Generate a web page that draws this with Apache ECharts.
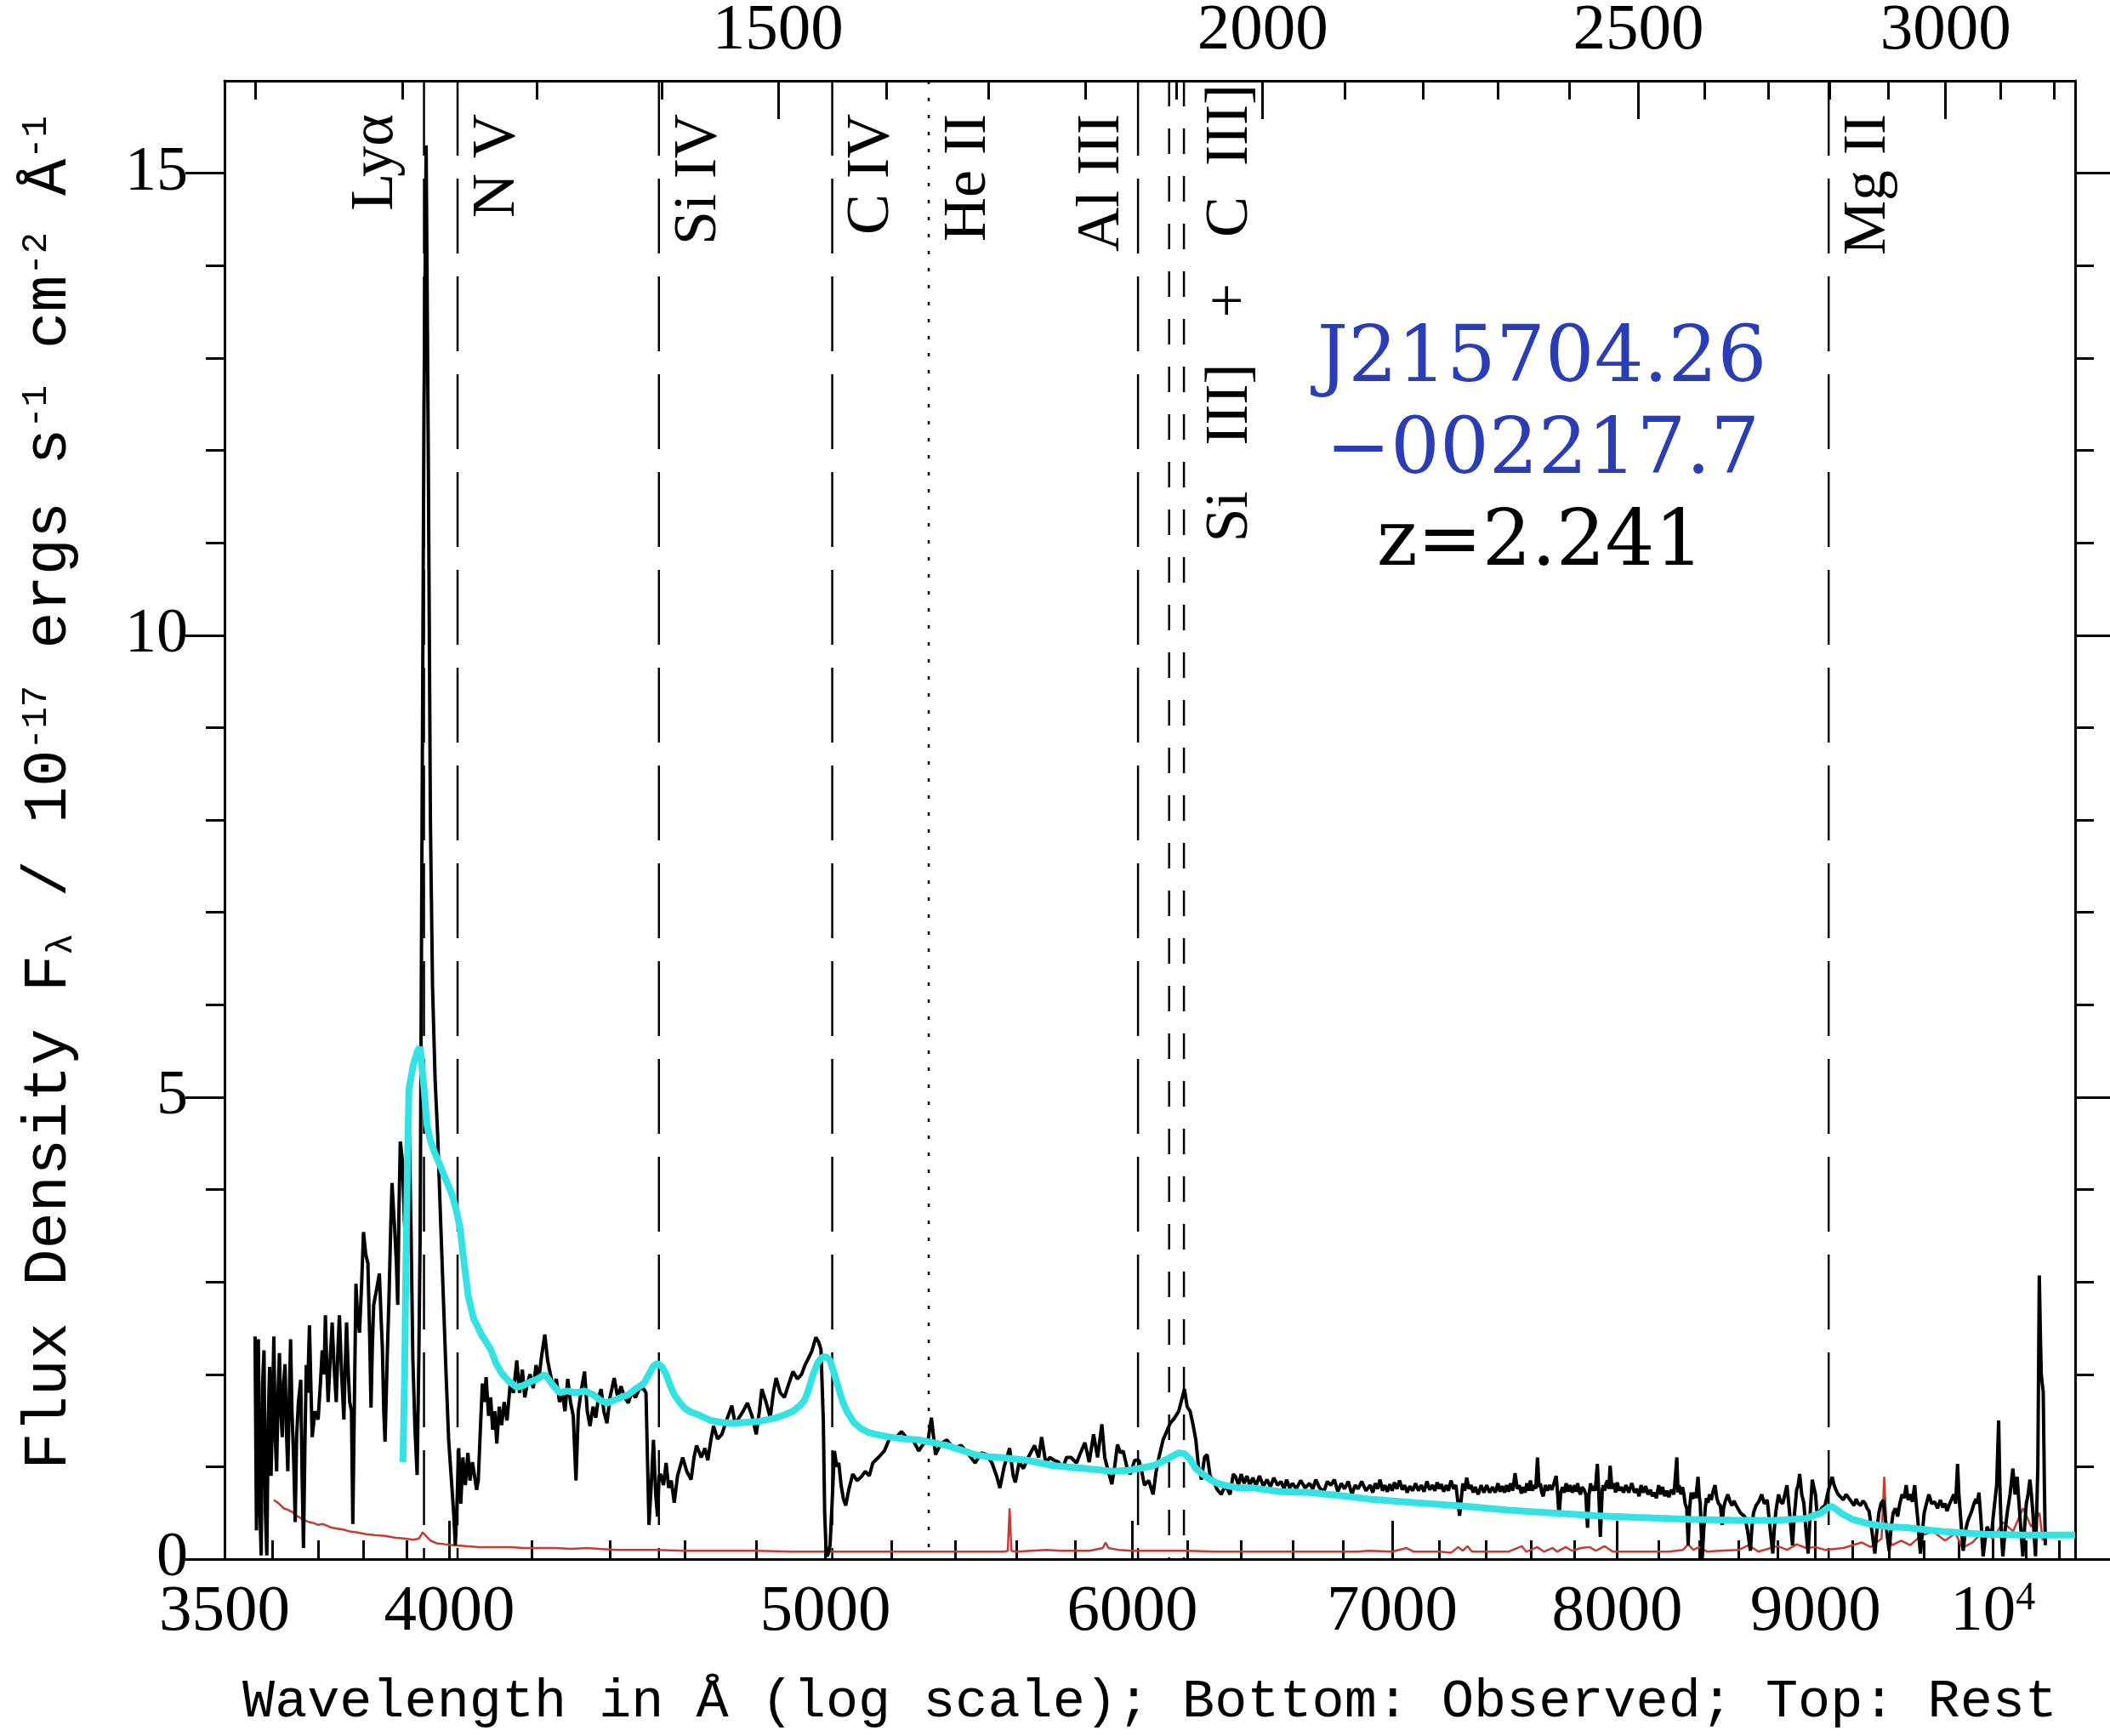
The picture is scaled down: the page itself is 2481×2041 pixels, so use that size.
<!DOCTYPE html>
<html>
<head>
<meta charset="utf-8">
<title>J215704.26-002217.7</title>
<script src="https://cdn.jsdelivr.net/npm/echarts@6/dist/echarts.min.js"></script>
<style>
  html, body { margin: 0; padding: 0; background: #fff; }
  #chart { width: 2481px; height: 2041px; }
</style>
</head>
<body>
<div id="chart"></div>
<script>
// redshift of the quasar
const z = 2.241;

// emission lines, rest wavelength in Å
const lineNames = ['Lyα', 'N V', 'Si IV', 'C IV', 'He II', 'Al III', 'Si III]', 'C III]', 'Mg II'];
const lineRest = [1215.67, 1240.14, 1397.61, 1549.06, 1640.42, 1857.40, 1892.03, 1908.73, 2798.75];
const lineLabels = ['Lyα', 'N V', 'Si IV', 'C IV', 'He II', 'Al III', '', 'Si   III]   +   C  III]', 'Mg II'];

// ticks
const obsMajor = [3500, 4000, 5000, 6000, 7000, 8000, 9000, 10000];
const obsMinor = [3600, 3700, 3800, 3900, 4200, 4400, 4600, 4800, 5200, 5400, 5600, 5800,
  6200, 6400, 6600, 6800, 7200, 7400, 7600, 7800, 8200, 8400, 8600, 8800,
  9200, 9400, 9600, 9800, 10200, 10400];
const restMajor = [1500, 2000, 2500, 3000];
const restMinor = [1100, 1200, 1300, 1400, 1600, 1700, 1800, 1900, 2100, 2200, 2300, 2400,
  2600, 2700, 2800, 2900, 3100, 3200];
const fluxMajor = [0, 5, 10, 15];
const fluxMinor = [1, 2, 3, 4, 6, 7, 8, 9, 11, 12, 13, 14];

// observed spectrum [wavelength Å, flux]
const spectrum = [
  [3564, 2.41], [3567, 0.31], [3571, 2.38], [3574, 0.6], [3577, 0.04], [3580, 1.9], [3583, 2.26],
  [3586, 0.5], [3589, 0.04], [3592, 1.5], [3595, 2.08], [3598, 0.9], [3601, 1.6], [3604, 2.41],
  [3607, 1.3], [3610, 0.95], [3613, 1.8], [3616, 2.23], [3619, 1.6], [3622, 1.32], [3625, 1.9],
  [3628, 2.11], [3631, 1.4], [3634, 0.95], [3637, 1.7], [3640, 2.38], [3643, 1.6], [3647, 1.02],
  [3650, 0.4], [3653, 1.32], [3657, 1.7], [3662, 1.94], [3665, 0.9], [3668, 0.12], [3671, 1.2],
  [3674, 2.1], [3677, 1.8], [3681, 2.53], [3684, 1.9], [3687, 1.32], [3693, 1.6], [3700, 1.51],
  [3705, 1.9], [3709, 2.26], [3713, 2.0], [3716, 2.64], [3719, 2.1], [3722, 1.7], [3727, 2.2],
  [3731, 2.56], [3735, 2.1], [3740, 1.7], [3744, 2.3], [3747, 2.64], [3752, 2.0], [3757, 1.51],
  [3760, 2.1], [3763, 2.56], [3767, 2.0], [3770, 1.7], [3774, 1.6], [3777, 0.38], [3780, 1.5],
  [3784, 2.98], [3788, 2.6], [3792, 2.45], [3797, 3.0], [3801, 3.54], [3806, 3.3], [3811, 3.2],
  [3815, 2.4], [3818, 1.64], [3821, 2.3], [3824, 2.75], [3830, 2.9], [3837, 3.09], [3841, 2.6],
  [3844, 2.26], [3847, 1.6], [3850, 1.27], [3855, 2.2], [3859, 2.83], [3863, 3.6], [3866, 4.07],
  [3869, 3.8], [3872, 3.58], [3876, 3.2], [3879, 2.75], [3882, 3.8], [3885, 4.52], [3890, 4.3],
  [3895, 3.6], [3900, 4.4], [3905, 4.86], [3910, 3.5], [3914, 2.17], [3919, 1.4], [3924, 0.91],
  [3928, 2.2], [3931, 3.5], [3935, 7.5], [3940, 12.5], [3945, 15.3], [3950, 12.0], [3955, 8.0],
  [3960, 6.2], [3966, 5.2], [3972, 4.6], [3978, 3.8], [3985, 2.9], [3992, 2.0], [3998, 1.3],
  [4004, 0.9], [4010, 0.5], [4014, 0.15], [4018, 0.6], [4022, 1.2], [4027, 0.6], [4032, 1.1],
  [4038, 0.8], [4044, 1.15], [4049, 0.85], [4055, 1.05], [4060, 0.9], [4065, 0.75], [4069, 0.85],
  [4075, 1.5], [4079, 1.9], [4084, 1.7], [4088, 1.97], [4094, 1.55], [4099, 1.75], [4104, 1.4],
  [4109, 1.6], [4114, 1.25], [4120, 1.65], [4126, 1.45], [4132, 1.7], [4139, 1.5], [4147, 1.9],
  [4155, 1.8], [4163, 2.15], [4170, 1.8], [4177, 2.05], [4183, 1.75], [4189, 1.9], [4196, 2.0],
  [4204, 1.85], [4211, 2.1], [4218, 1.95], [4225, 2.2], [4233, 2.43], [4240, 2.15], [4247, 2.0],
  [4255, 1.85], [4262, 1.95], [4270, 1.7], [4277, 1.8], [4284, 1.6], [4291, 1.95], [4298, 1.7],
  [4305, 1.55], [4312, 0.85], [4318, 1.6], [4326, 1.84], [4334, 2.03], [4341, 1.6], [4348, 1.44],
  [4356, 1.65], [4363, 1.53], [4370, 1.75], [4377, 1.84], [4384, 1.6], [4392, 1.47], [4400, 1.75],
  [4411, 1.96], [4420, 1.75], [4429, 1.87], [4438, 1.75], [4448, 1.69], [4457, 1.8], [4467, 1.75],
  [4478, 1.85], [4489, 1.84], [4495, 1.8], [4500, 0.9], [4503, 0.37], [4509, 0.8], [4515, 1.29],
  [4521, 0.7], [4526, 0.46], [4530, 0.9], [4534, 0.92], [4542, 0.8], [4549, 1.04], [4556, 0.77],
  [4563, 0.85], [4571, 0.61], [4580, 0.9], [4594, 1.1], [4605, 0.95], [4617, 0.86], [4625, 1.1],
  [4632, 1.23], [4645, 1.1], [4655, 1.2], [4663, 1.07], [4672, 1.3], [4679, 1.44], [4690, 1.3],
  [4702, 1.35], [4715, 1.5], [4730, 1.66], [4740, 1.45], [4750, 1.53], [4762, 1.6], [4774, 1.69],
  [4787, 1.55], [4799, 1.35], [4808, 1.6], [4815, 1.84], [4827, 1.7], [4839, 1.53], [4848, 1.8],
  [4856, 1.96], [4868, 1.8], [4880, 1.75], [4893, 1.9], [4905, 2.03], [4918, 1.95], [4930, 2.0],
  [4940, 2.1], [4947, 2.15], [4960, 2.25], [4972, 2.4], [4980, 2.35], [4987, 2.27], [4994, 1.5],
  [4998, 0.5], [5003, 0.03], [5008, 0.05], [5014, 0.15], [5020, 0.6], [5027, 1.17], [5034, 1.0],
  [5040, 1.04], [5047, 0.8], [5054, 0.65], [5061, 0.58], [5070, 0.75], [5082, 0.92], [5095, 0.85],
  [5108, 0.89], [5120, 0.95], [5132, 0.9], [5143, 1.04], [5160, 1.1], [5178, 1.17], [5196, 1.32],
  [5210, 1.3], [5231, 1.38], [5250, 1.3], [5267, 1.29], [5285, 1.17], [5300, 1.25], [5315, 1.3],
  [5325, 1.53], [5338, 1.13], [5355, 1.25], [5374, 1.29], [5395, 1.2], [5420, 1.23], [5440, 1.15],
  [5465, 1.04], [5485, 1.15], [5502, 1.13], [5520, 1.04], [5535, 0.9], [5546, 0.77], [5560, 1.0],
  [5578, 1.2], [5590, 0.9], [5597, 0.83], [5610, 1.05], [5624, 0.98], [5640, 1.1], [5661, 1.23],
  [5675, 1.1], [5685, 1.32], [5699, 1.04], [5713, 1.1], [5727, 1.07], [5742, 1.05], [5756, 0.98],
  [5770, 1.1], [5785, 1.1], [5804, 1.04], [5818, 1.15], [5833, 1.26], [5848, 1.05], [5863, 1.35],
  [5877, 1.1], [5892, 1.46], [5902, 1.1], [5912, 0.98], [5927, 0.81], [5937, 1.0], [5947, 1.24],
  [5957, 1.15], [5967, 1.17], [5980, 1.0], [5992, 0.92], [6008, 1.07], [6023, 1.07], [6033, 0.95],
  [6043, 0.8], [6058, 0.85], [6074, 0.7], [6085, 0.95], [6095, 1.1], [6110, 1.29], [6123, 1.38],
  [6136, 1.47], [6150, 1.52], [6167, 1.6], [6180, 1.75], [6188, 1.84], [6198, 1.65], [6209, 1.6],
  [6220, 1.45], [6230, 1.29], [6240, 1.0], [6251, 0.86], [6262, 1.1], [6272, 1.13], [6283, 0.9],
  [6293, 0.86], [6310, 0.75], [6325, 0.7], [6340, 0.8], [6358, 0.7], [6370, 0.92], [6379, 0.89],
  [6390, 0.8], [6400, 0.92], [6411, 0.82], [6422, 0.9], [6433, 0.8], [6444, 0.88], [6457, 0.8],
  [6470, 0.9], [6485, 0.79], [6499, 0.86], [6512, 0.78], [6525, 0.88], [6540, 0.8], [6553, 0.84],
  [6565, 0.76], [6575, 0.86], [6587, 0.77], [6598, 0.82], [6613, 0.76], [6630, 0.85], [6648, 0.77],
  [6665, 0.82], [6678, 0.76], [6690, 0.86], [6705, 0.77], [6722, 0.73], [6736, 0.84], [6750, 0.8],
  [6764, 0.86], [6778, 0.73], [6792, 0.82], [6805, 0.76], [6820, 0.84], [6835, 0.7], [6848, 0.8],
  [6860, 0.76], [6875, 0.84], [6892, 0.74], [6910, 0.8], [6920, 0.72], [6930, 0.82], [6940, 0.76],
  [6950, 0.86], [6960, 0.74], [6970, 0.8], [6980, 0.73], [6991, 0.81], [7000, 0.74], [7010, 0.83],
  [7020, 0.76], [7031, 0.85], [7042, 0.75], [7052, 0.8], [7063, 0.72], [7074, 0.79], [7086, 0.74],
  [7098, 0.82], [7110, 0.74], [7122, 0.8], [7134, 0.73], [7146, 0.84], [7158, 0.75], [7170, 0.8],
  [7180, 0.74], [7190, 0.83], [7199, 0.76], [7207, 0.81], [7218, 0.73], [7228, 0.8], [7238, 0.74],
  [7249, 0.85], [7260, 0.76], [7270, 0.8], [7286, 0.47], [7300, 0.82], [7308, 0.74], [7317, 0.88],
  [7326, 0.76], [7336, 0.8], [7345, 0.72], [7354, 0.78], [7367, 0.7], [7380, 0.8], [7392, 0.72],
  [7404, 0.8], [7417, 0.72], [7430, 0.78], [7442, 0.72], [7454, 0.82], [7463, 0.73], [7473, 0.79],
  [7483, 0.72], [7492, 0.8], [7501, 0.73], [7510, 0.82], [7520, 0.74], [7530, 0.93], [7540, 0.76],
  [7549, 0.8], [7558, 0.71], [7567, 0.78], [7575, 0.72], [7583, 0.82], [7591, 0.74], [7599, 0.85],
  [7607, 0.74], [7615, 0.8], [7623, 0.76], [7631, 1.1], [7638, 0.78], [7644, 0.82], [7650, 0.72],
  [7657, 0.68], [7666, 0.8], [7676, 0.74], [7686, 0.8], [7696, 0.75], [7706, 0.82], [7716, 0.9],
  [7723, 0.7], [7729, 0.46], [7737, 0.72], [7745, 0.78], [7753, 0.72], [7762, 0.82], [7771, 0.73],
  [7780, 0.8], [7790, 0.72], [7801, 0.8], [7808, 0.73], [7815, 0.82], [7821, 0.74], [7828, 0.7],
  [7836, 0.78], [7845, 0.75], [7853, 0.7], [7861, 0.34], [7868, 0.7], [7875, 0.82], [7881, 0.74],
  [7887, 0.79], [7897, 0.74], [7907, 1.03], [7914, 0.7], [7921, 0.24], [7930, 0.75], [7935, 0.8],
  [7941, 0.74], [7948, 0.82], [7955, 0.85], [7961, 0.76], [7967, 1.01], [7976, 0.76], [7985, 0.82],
  [7993, 0.72], [8001, 0.83], [8010, 0.74], [8020, 0.78], [8031, 0.72], [8042, 0.8], [8056, 0.72],
  [8070, 0.82], [8083, 0.72], [8096, 0.76], [8105, 0.68], [8115, 0.8], [8126, 0.72], [8137, 0.79],
  [8148, 0.7], [8160, 0.75], [8169, 0.68], [8178, 0.72], [8189, 0.66], [8200, 0.8], [8210, 0.7],
  [8219, 0.78], [8230, 0.68], [8240, 0.74], [8250, 0.67], [8261, 0.75], [8275, 0.7], [8289, 1.1],
  [8295, 0.72], [8300, 0.8], [8309, 0.7], [8317, 0.78], [8324, 0.7], [8330, 0.6], [8338, 0.55],
  [8345, 0.15], [8352, 0.55], [8360, 0.72], [8366, 0.65], [8373, 0.72], [8383, 0.66], [8394, 0.89],
  [8400, 0.68], [8405, 0.6], [8410, 0.3], [8415, 0.01], [8422, 0.3], [8430, 0.55], [8436, 0.66],
  [8443, 0.61], [8452, 0.7], [8460, 0.64], [8470, 0.74], [8479, 0.8], [8488, 0.66], [8497, 0.6],
  [8506, 0.58], [8515, 0.37], [8522, 0.55], [8530, 0.62], [8537, 0.66], [8544, 0.7], [8555, 0.62],
  [8565, 0.58], [8575, 0.63], [8586, 0.58], [8597, 0.54], [8608, 0.5], [8619, 0.48], [8630, 0.46],
  [8645, 0.3], [8659, 0.09], [8667, 0.35], [8675, 0.5], [8688, 0.58], [8702, 0.62], [8717, 0.7],
  [8731, 0.6], [8746, 0.64], [8760, 0.35], [8775, 0.06], [8782, 0.3], [8790, 0.5], [8797, 0.6],
  [8805, 0.7], [8816, 0.62], [8827, 0.6], [8838, 0.7], [8849, 0.8], [8863, 0.5], [8878, 0.15],
  [8889, 0.5], [8900, 0.75], [8908, 0.8], [8916, 0.92], [8927, 0.7], [8938, 0.61], [8950, 0.3],
  [8961, 0.06], [8972, 0.5], [8983, 0.86], [8991, 0.78], [9000, 0.7], [9006, 0.55], [9013, 0.46],
  [9032, 0.55], [9051, 0.58], [9060, 0.66], [9070, 0.75], [9080, 0.82], [9090, 0.89], [9100, 0.8],
  [9110, 0.75], [9122, 0.7], [9136, 0.67], [9150, 0.64], [9165, 0.7], [9180, 0.66], [9198, 0.61],
  [9209, 0.58], [9220, 0.65], [9232, 0.6], [9244, 0.58], [9257, 0.63], [9270, 0.6], [9280, 0.55],
  [9291, 0.52], [9307, 0.3], [9323, 0.06], [9334, 0.3], [9345, 0.5], [9357, 0.6], [9370, 0.64],
  [9386, 0.35], [9402, 0.09], [9414, 0.35], [9425, 0.5], [9437, 0.55], [9450, 0.46], [9462, 0.6],
  [9475, 0.7], [9487, 0.66], [9498, 0.8], [9509, 0.64], [9520, 0.7], [9533, 0.62], [9546, 0.8],
  [9555, 0.6], [9565, 0.4], [9572, 0.2], [9579, 0.06], [9590, 0.3], [9600, 0.5], [9613, 0.6],
  [9627, 0.7], [9643, 0.6], [9660, 0.62], [9676, 0.55], [9693, 0.64], [9706, 0.56], [9720, 0.6],
  [9731, 0.52], [9742, 0.58], [9756, 0.64], [9770, 0.7], [9781, 0.6], [9792, 1.03], [9800, 0.7],
  [9808, 0.5], [9816, 0.3], [9825, 0.09], [9837, 0.3], [9850, 0.4], [9862, 0.46], [9875, 0.52],
  [9888, 0.6], [9900, 0.65], [9908, 0.6], [9917, 0.72], [9924, 0.55], [9930, 0.4], [9936, 0.2],
  [9942, 0.03], [9953, 0.2], [9965, 0.35], [9978, 0.3], [9992, 0.27], [10001, 0.45], [10010, 0.6],
  [10022, 0.8], [10034, 1.5], [10041, 0.8], [10048, 0.4], [10053, 0.2], [10059, 0.03], [10072, 0.3],
  [10085, 0.5], [10102, 0.7], [10119, 0.98], [10132, 0.7], [10145, 0.89], [10152, 0.7], [10160, 0.5],
  [10170, 0.25], [10179, 0.03], [10190, 0.35], [10200, 0.6], [10211, 0.7], [10222, 0.86], [10231, 0.7],
  [10240, 0.5], [10248, 0.25], [10256, 0.03], [10263, 0.5], [10270, 1.0], [10279, 3.07], [10286, 2.4],
  [10291, 2.0], [10297, 1.9], [10303, 1.81], [10310, 0.8], [10316, 0.15]
];

// composite fit, cyan
const composite = [
  [3891, 1.05], [3895, 2.0], [3898, 3.2], [3902, 4.4], [3905, 5.09], [3915, 5.35], [3925, 5.5],
  [3931, 5.54], [3940, 5.1], [3947, 4.7], [3955, 4.53], [3965, 4.4], [3978, 4.26], [3992, 4.1],
  [4005, 3.96], [4015, 3.8], [4025, 3.59], [4035, 3.2], [4045, 2.84], [4058, 2.6], [4078, 2.42],
  [4099, 2.27], [4112, 2.12], [4126, 2.01], [4145, 1.92], [4163, 1.86], [4180, 1.88], [4197, 1.92],
  [4215, 1.95], [4233, 2.0], [4250, 1.9], [4270, 1.8], [4290, 1.82], [4312, 1.8], [4334, 1.82],
  [4356, 1.78], [4374, 1.72], [4392, 1.69], [4410, 1.72], [4429, 1.75], [4448, 1.78], [4467, 1.84],
  [4489, 1.9], [4503, 2.0], [4515, 2.09], [4526, 2.12], [4538, 2.08], [4549, 2.0], [4560, 1.88],
  [4571, 1.78], [4585, 1.7], [4600, 1.63], [4617, 1.59], [4632, 1.57], [4671, 1.5], [4700, 1.48],
  [4734, 1.47], [4770, 1.48], [4807, 1.49], [4856, 1.53], [4880, 1.56], [4905, 1.6], [4925, 1.66],
  [4939, 1.72], [4952, 1.85], [4964, 2.0], [4977, 2.12], [4989, 2.18], [4997, 2.19], [5006, 2.18],
  [5014, 2.15], [5027, 2.0], [5040, 1.84], [5052, 1.7], [5064, 1.6], [5085, 1.48], [5108, 1.41],
  [5130, 1.37], [5152, 1.35], [5196, 1.32], [5240, 1.3], [5285, 1.29], [5330, 1.26], [5374, 1.23],
  [5420, 1.18], [5465, 1.13], [5502, 1.11], [5546, 1.1], [5635, 1.07], [5727, 1.01], [5833, 0.98],
  [5927, 0.95], [5980, 0.96], [6023, 0.98], [6074, 1.01], [6110, 1.06], [6136, 1.1], [6167, 1.15],
  [6188, 1.14], [6209, 1.08], [6230, 0.98], [6255, 0.92], [6283, 0.86], [6310, 0.82], [6336, 0.8],
  [6390, 0.77], [6444, 0.77], [6553, 0.73], [6665, 0.72], [6778, 0.69], [6904, 0.65], [7100, 0.61],
  [7317, 0.57], [7500, 0.53], [7696, 0.5], [7900, 0.47], [8096, 0.45], [8350, 0.43], [8600, 0.42],
  [8800, 0.42], [8950, 0.44], [9030, 0.5], [9070, 0.56], [9090, 0.57], [9110, 0.54], [9136, 0.5],
  [9200, 0.43], [9291, 0.38], [9400, 0.35], [9500, 0.34], [9700, 0.3], [9942, 0.27], [10200, 0.26],
  [10500, 0.26]
];

// error spectrum, red
const noise = [
  [3604, 0.64], [3615, 0.6], [3625, 0.55], [3635, 0.53], [3644, 0.51], [3652, 0.47], [3660, 0.45],
  [3670, 0.42], [3681, 0.4], [3690, 0.39], [3700, 0.37], [3710, 0.38], [3720, 0.36], [3730, 0.34],
  [3743, 0.33], [3755, 0.32], [3770, 0.3], [3785, 0.29], [3807, 0.27], [3825, 0.26], [3850, 0.25],
  [3875, 0.23], [3898, 0.22], [3915, 0.21], [3928, 0.22], [3937, 0.29], [3945, 0.25], [3955, 0.2],
  [3971, 0.17], [3990, 0.16], [4010, 0.15], [4040, 0.14], [4072, 0.13], [4110, 0.13], [4150, 0.13],
  [4180, 0.12], [4212, 0.12], [4260, 0.12], [4300, 0.11], [4340, 0.12], [4371, 0.11], [4420, 0.1],
  [4470, 0.1], [4520, 0.1], [4600, 0.09], [4700, 0.09], [4800, 0.09], [4900, 0.08], [5000, 0.08],
  [5100, 0.08], [5200, 0.08], [5300, 0.08], [5400, 0.08], [5480, 0.08], [5560, 0.08], [5572, 0.09],
  [5578, 0.55], [5584, 0.09], [5600, 0.08], [5650, 0.09], [5700, 0.1], [5750, 0.09], [5850, 0.09],
  [5895, 0.12], [5905, 0.18], [5915, 0.12], [5950, 0.1], [6000, 0.09], [6100, 0.09], [6200, 0.09],
  [6300, 0.08], [6500, 0.08], [6700, 0.08], [6860, 0.08], [6900, 0.09], [7000, 0.08], [7060, 0.12],
  [7090, 0.08], [7200, 0.08], [7250, 0.07], [7280, 0.13], [7300, 0.09], [7320, 0.14], [7340, 0.08],
  [7400, 0.08], [7500, 0.08], [7560, 0.14], [7580, 0.08], [7630, 0.13], [7660, 0.08], [7700, 0.12],
  [7720, 0.08], [7760, 0.13], [7790, 0.09], [7830, 0.12], [7870, 0.13], [7900, 0.09], [7940, 0.14],
  [7980, 0.08], [8100, 0.08], [8250, 0.08], [8320, 0.1], [8345, 0.16], [8370, 0.1], [8400, 0.13],
  [8440, 0.08], [8500, 0.09], [8600, 0.1], [8650, 0.15], [8700, 0.08], [8800, 0.14], [8850, 0.1],
  [8900, 0.16], [8950, 0.12], [9000, 0.13], [9050, 0.1], [9150, 0.12], [9250, 0.18], [9300, 0.13],
  [9360, 0.22], [9375, 0.89], [9390, 0.25], [9420, 0.15], [9470, 0.2], [9520, 0.15], [9580, 0.25],
  [9650, 0.3], [9720, 0.2], [9780, 0.28], [9820, 0.12], [9880, 0.18], [9940, 0.3], [10000, 0.22],
  [10060, 0.4], [10120, 0.3], [10180, 0.55], [10230, 0.35], [10280, 0.5], [10300, 0.2]
];

const LOG = v => Math.log10(v);
const xMin = LOG(3500);
const xMax = LOG(10500);
const yMax = 16;

// line style per emission line
const lineDash = { 'He II': [4, 16], 'Si III]': [30, 26], 'C III]': [30, 26] };
const labelLeft = { 'Lyα': true, 'Al III': true };
const labelDx = { 'Lyα': -20, 'Al III': -6, 'C III]': 19 };
const labelDy = { 'C III]': 4 };

const chart = echarts.init(document.getElementById('chart'));

function renderLine(params, api) {
  const i = api.value(1);
  const name = lineNames[i];
  const bottom = api.coord([api.value(0), 0]);
  const top = api.coord([api.value(0), yMax]);
  const children = [{
    type: 'line',
    shape: { x1: top[0], y1: top[1], x2: bottom[0], y2: bottom[1] },
    style: { stroke: '#000', lineWidth: 2.5, lineDash: lineDash[name] || [88, 27] }
  }];
  const text = lineLabels[i];
  if (text) {
    const left = labelLeft[name];
    const dx = labelDx[name] !== undefined ? labelDx[name] : 11;
    const dy = labelDy[name] !== undefined ? labelDy[name] : 39;
    children.push({
      type: 'text',
      x: top[0] + dx,
      y: top[1] + dy,
      rotation: Math.PI / 2,
      style: {
        text: text, fill: '#000', fontSize: 72, fontFamily: 'Liberation Serif',
        align: 'right', textAlign: 'right',
        verticalAlign: left ? 'bottom' : 'top', textVerticalAlign: left ? 'bottom' : 'top'
      }
    });
  }
  return { type: 'group', children: children };
}

const tickStyle = { color: '#000', width: 3 };
const tickFont = { fontFamily: 'Liberation Serif', fontSize: 77, color: '#000' };

let option = {
  backgroundColor: '#fff',
  animation: false,
  grid: { left: 264, right: 41, top: 95, bottom: 208, containLabel: false, outerBoundsMode: 'none' },
  xAxis: [
    {
      // bottom: observed wavelength
      type: 'value', position: 'bottom', min: xMin, max: xMax,
      axisLine: { show: true, onZero: false, lineStyle: tickStyle },
      axisTick: { show: true, inside: true, length: 45, customValues: obsMajor.map(LOG), lineStyle: tickStyle },
      axisLabel: {
        customValues: obsMajor.map(LOG), margin: 24,
        formatter: v => {
          const w = Math.round(Math.pow(10, v));
          return w === 10000 ? '{n|10}{s|4}' : '{n|' + w + '}';
        },
        rich: {
          n: tickFont,
          s: { fontFamily: 'Liberation Serif', fontSize: 46, color: '#000', verticalAlign: 'top' }
        }
      },
      splitLine: { show: false },
      name: 'Wavelength in Å (log scale); Bottom: Observed; Top: Rest',
      nameLocation: 'middle', nameGap: 136,
      nameTextStyle: { fontFamily: 'Liberation Mono', fontSize: 63.5, color: '#000' }
    },
    {
      type: 'value', position: 'bottom', min: xMin, max: xMax,
      axisLine: { show: false, onZero: false },
      axisTick: { show: true, inside: true, length: 22, customValues: obsMinor.map(LOG), lineStyle: tickStyle },
      axisLabel: { show: false }, splitLine: { show: false }
    },
    {
      // top: rest-frame wavelength
      type: 'value', position: 'top', min: xMin, max: xMax,
      axisLine: { show: true, onZero: false, lineStyle: tickStyle },
      axisTick: { show: true, inside: true, length: 45, customValues: restMajor.map(r => LOG(r * (1 + z))), lineStyle: tickStyle },
      axisLabel: {
        customValues: restMajor.map(r => LOG(r * (1 + z))), margin: 20,
        formatter: v => '{n|' + Math.round(Math.pow(10, v) / (1 + z)) + '}',
        rich: { n: tickFont }
      },
      splitLine: { show: false }
    },
    {
      type: 'value', position: 'top', min: xMin, max: xMax,
      axisLine: { show: false, onZero: false },
      axisTick: { show: true, inside: true, length: 22, customValues: restMinor.map(r => LOG(r * (1 + z))), lineStyle: tickStyle },
      axisLabel: { show: false }, splitLine: { show: false }
    }
  ],
  yAxis: [
    {
      type: 'value', position: 'left', min: 0, max: yMax,
      axisLine: { show: true, onZero: false, lineStyle: tickStyle },
      axisTick: { show: true, inside: false, length: 46, customValues: fluxMajor, lineStyle: tickStyle },
      axisLabel: { customValues: fluxMajor, margin: 43, fontFamily: 'Liberation Serif', fontSize: 74, color: '#000' },
      splitLine: { show: false },
      name: 'Flux Density F{sub|λ} / 10{sup|-17} ergs s{sup|-1} cm{sup|-2} Å{sup|-1}',
      nameLocation: 'middle', nameGap: 170,
      nameTextStyle: {
        fontFamily: 'Liberation Mono', fontSize: 72, color: '#000',
        padding: [0, 0, 0, 64],
        rich: {
          sub: { fontFamily: 'Liberation Mono', fontSize: 42, color: '#000', verticalAlign: 'bottom' },
          sup: { fontFamily: 'Liberation Mono', fontSize: 42, color: '#000', verticalAlign: 'top' }
        }
      }
    },
    {
      type: 'value', position: 'left', min: 0, max: yMax,
      axisLine: { show: false, onZero: false },
      axisTick: { show: true, inside: false, length: 22, customValues: fluxMinor, lineStyle: tickStyle },
      axisLabel: { show: false }, splitLine: { show: false }
    },
    {
      type: 'value', position: 'right', min: 0, max: yMax,
      axisLine: { show: true, onZero: false, lineStyle: tickStyle },
      axisTick: { show: true, inside: false, length: 46, customValues: fluxMajor, lineStyle: tickStyle },
      axisLabel: { show: false }, splitLine: { show: false }
    },
    {
      type: 'value', position: 'right', min: 0, max: yMax,
      axisLine: { show: false, onZero: false },
      axisTick: { show: true, inside: false, length: 22, customValues: fluxMinor, lineStyle: tickStyle },
      axisLabel: { show: false }, splitLine: { show: false }
    }
  ],
  graphic: [
    { type: 'text', x: 1813, y: 424, style: { text: 'J215704.26', fill: '#2b3db4', font: '91px "DejaVu Serif"', align: 'center', textAlign: 'center', verticalAlign: 'middle', textVerticalAlign: 'middle' } },
    { type: 'text', x: 1814, y: 532, style: { text: '−002217.7', fill: '#2b3db4', font: '91px "DejaVu Serif"', align: 'center', textAlign: 'center', verticalAlign: 'middle', textVerticalAlign: 'middle' } },
    { type: 'text', x: 1811, y: 640, style: { text: 'z=' + z, fill: '#000', font: '91px "DejaVu Serif"', align: 'center', textAlign: 'center', verticalAlign: 'middle', textVerticalAlign: 'middle' } }
  ],
  series: [
    {
      type: 'custom', name: 'lines', xAxisIndex: 0, yAxisIndex: 0, silent: true, z: 1,
      renderItem: renderLine,
      data: lineRest.map((r, i) => [LOG(r * (1 + z)), i])
    },
    {
      type: 'line', name: 'error', xAxisIndex: 0, yAxisIndex: 0, z: 2,
      symbol: 'none', lineStyle: { color: '#c63b2f', width: 2.5 },
      data: noise.map(p => [LOG(p[0]), p[1]])
    },
    {
      type: 'line', name: 'spectrum', xAxisIndex: 0, yAxisIndex: 0, z: 3,
      symbol: 'none', lineStyle: { color: '#000', width: 4 },
      data: spectrum.map(p => [LOG(p[0]), p[1]])
    },
    {
      type: 'line', name: 'composite', xAxisIndex: 0, yAxisIndex: 0, z: 4,
      symbol: 'none', lineStyle: { color: '#33e2e2', width: 8 },
      data: composite.map(p => [LOG(p[0]), p[1]])
    }
  ]
};

chart.setOption(option);
</script>
</body>
</html>
